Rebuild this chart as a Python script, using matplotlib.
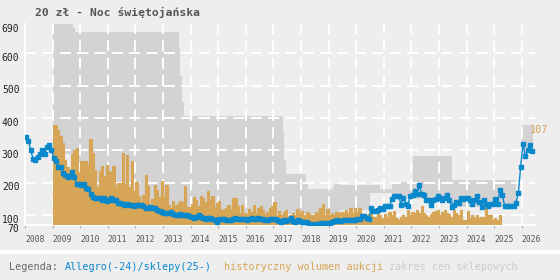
import matplotlib
matplotlib.use("Agg")
import matplotlib.pyplot as plt
from matplotlib.patches import Rectangle
from matplotlib.transforms import ScaledTranslation
import numpy as np

plt.rcParams['font.family'] = ['DejaVu Sans Mono']
plt.rcParams['lines.scale_dashes'] = False

title = "20 zł - Noc świętojańska"

# Allegro (-2024) / shop (2025-) price, monthly from Jan 2008
price_start = 2008
allegro_prices = [
    341, 330, 300, 275, 270, 279, 288, 300, 288, 310, 318, 302,  # 2008
    276, 268, 250, 250, 230, 224, 218, 222, 233, 217, 196, 196,  # 2009
    193, 196, 184, 180, 167, 157, 153, 153, 154, 146, 154, 143,  # 2010
    146, 154, 148, 148, 139, 139, 136, 133, 136, 131, 131, 129,  # 2011
    131, 133, 133, 129, 121, 121, 126, 123, 121, 115, 112, 110,  # 2012
    107, 107, 108, 110, 104, 100, 102, 105, 102, 100, 100, 97,   # 2013
    95, 93, 96, 100, 94, 92, 90, 91, 93, 88, 85, 80,             # 2014
    90, 88, 88, 85, 85, 86, 88, 92, 90, 88, 88, 90,              # 2015
    85, 88, 92, 90, 90, 93, 90, 88, 85, 86, 88, 90,              # 2016
    87, 85, 81, 79, 85, 81, 85, 93, 82, 79, 85, 81,              # 2017
    79, 79, 78, 74, 74, 71, 74, 74, 75, 77, 74, 76,              # 2018
    77, 79, 81, 85, 83, 81, 84, 85, 85, 85, 85, 85,              # 2019
    88, 90, 98, 98, 92, 90, 121, 113, 113, 115, 123, 118,        # 2020
    129, 129, 129, 149, 159, 159, 159, 133, 152, 136, 130, 160,  # 2021
    164, 175, 167, 192, 165, 162, 146, 148, 133, 146, 150, 160,  # 2022
    153, 148, 152, 163, 146, 126, 133, 141, 139, 152, 150, 152,  # 2023
    152, 146, 136, 146, 160, 141, 126, 146, 136, 128, 136, 136,  # 2024
    149, 136, 177, 164, 130, 130, 130, 130, 130, 139, 170, 249,  # 2025
    321, 282, 300, 316, 298,                                     # 2026
]

# historical auction volume, monthly from Jan 2009
volume_start = 2009
auction_volume = [
    107, 107, 102, 95, 88, 70, 62, 58, 76, 80, 82, 57,   # 2009
    69, 69, 69, 64, 92, 77, 59, 41, 58, 63, 52, 64,      # 2010
    58, 57, 63, 41, 45, 45, 77, 44, 75, 41, 69, 36,      # 2011
    46, 31, 25, 32, 53, 42, 20, 28, 43, 37, 30, 47,      # 2012
    30, 43, 21, 18, 26, 21, 22, 26, 25, 42, 19, 19,      # 2013
    23, 30, 27, 20, 31, 29, 25, 36, 27, 31, 19, 24,      # 2014
    26, 16, 17, 18, 21, 16, 29, 29, 20, 13, 21, 13,      # 2015
    12, 17, 14, 21, 13, 18, 20, 16, 11, 14, 18, 20,      # 2016
    25, 11, 15, 11, 14, 16, 9, 11, 13, 11, 17, 13,       # 2017
    15, 11, 14, 13, 11, 11, 14, 13, 18, 23, 11, 17,      # 2018
    11, 13, 11, 14, 12, 14, 14, 16, 13, 18, 13, 18,      # 2019
    14, 18, 9, 11, 11, 12, 16, 9, 9, 14, 11, 8,          # 2020
    12, 9, 14, 11, 15, 7, 5, 9, 11, 9, 16, 11,           # 2021
    14, 13, 16, 13, 20, 13, 11, 9, 12, 14, 15, 16,       # 2022
    11, 14, 16, 13, 12, 9, 16, 13, 11, 16, 5, 5,         # 2023
    15, 7, 11, 9, 11, 8, 9, 9, 19, 11, 11, 5,            # 2024
    8, 5, 11,                                            # 2025
]

# shop price range (step changes)
range_years = [2009.0, 2009.75, 2009.82, 2010.1, 2013.58, 2013.62, 2013.68, 2013.75,
               2017.34, 2017.38, 2017.45, 2018.18, 2018.24, 2019.15, 2019.2, 2019.41,
               2020.5, 2020.86, 2021.30, 2022.06, 2023.47, 2025.78, 2026.0, 2026.4]
range_high = [690, 678, 665, 665, 615, 530, 450, 405,
              357, 270, 227, 200, 180, 190, 195, 193,
              193, 180, 203, 282, 208, 150, 378, 378]
range_low = [290, 290, 235, 70, 70, 70, 70, 70,
             70, 70, 70, 70, 70, 70, 70, 115,
             168, 168, 160, 150, 126, 150, 300, 300]

year_ticks = list(range(2008, 2027))
price_ticks = [70, 100, 200, 300, 400, 500, 600, 690]

bg = '#eeeeee'
gray = '#d3d3d3'
orange = '#d6a555'
blue = '#0a88cc'

W, H = 560, 280
left, right, top, bottom = 25, 535, 24, 225

fig = plt.figure(figsize=(W / 100, H / 100), dpi=100, facecolor=bg)
rect = [left / W, 1 - bottom / H, (right - left) / W, (bottom - top) / H]

ax = fig.add_axes(rect)
ax.set_facecolor(bg)
ax.fill_between(range_years, range_low, range_high, step='post', color=gray, lw=0, zorder=1)
for v in price_ticks[1:-1]:
    ax.axhline(v, color='white', lw=1.4, linestyle=(0, (8, 4.5)), zorder=2)
for yr in year_ticks[1:]:
    ax.axvline(yr, color='white', lw=1.4, linestyle=(0, (8, 4.5)), zorder=2)

xmax = 2008 + (right - left) / 27.6
ax.set_xlim(2008, xmax)
ax.set_ylim(70, 690)
ax.set_yticks(price_ticks)
ax.set_xticks(year_ticks)
ax.set_xticklabels([str(y) for y in year_ticks], ha='left')
ax.tick_params(axis='x', length=2.5, color='#aaaaaa', pad=5, labelsize=5.8, labelcolor='#555555')
ax.tick_params(axis='y', length=0, pad=4, labelsize=7, labelcolor='#222222')
for lab in ax.get_yticklabels():
    lab.set_transform(lab.get_transform() + ScaledTranslation(0, -0.035, fig.dpi_scale_trans))
for s in ['top', 'right']:
    ax.spines[s].set_visible(False)
for s in ['left', 'bottom']:
    ax.spines[s].set_color('white')
    ax.spines[s].set_linewidth(1.5)

# volume bars
ax_vol = ax.twinx()
ax_vol.set_zorder(ax.get_zorder() + 1)
vol_t = volume_start + np.arange(len(auction_volume)) / 12
ax_vol.bar(vol_t, auction_volume, width=1 / 12, align='edge', color=orange,
           edgecolor=orange, linewidth=0.8, zorder=3)
vmax = max(auction_volume)
ax_vol.set_ylim(0, vmax * (bottom - top) / 100)
ax_vol.text(2026.3, vmax, str(vmax), color=orange, fontsize=7.3, va='top', ha='left')
ax_vol.axis('off')

# price line
ax_line = ax_vol.twinx()
ax_line.set_zorder(ax.get_zorder() + 2)
price_t = price_start + (np.arange(len(allegro_prices)) + 0.5) / 12
ax_line.plot(price_t, allegro_prices, color=blue, lw=1.0, marker='s', ms=2.4,
             mec=blue, mfc=blue, zorder=4)
ax_line.set_ylim(70, 690)
ax_line.axis('off')
ax_line.set_xlim(2008, xmax)

fig.text(35 / W, 1 - 12.5 / H, title, fontsize=8.2, weight='bold', color='#555555', va='center')

fig.add_artist(Rectangle((0, 1 - 253.5 / H), 1, 4 / H, transform=fig.transFigure,
                         color='white', lw=0))

ly = 1 - 267.5 / H
fig.text(9 / W, ly, "Legenda:", fontsize=7.3, color='#666666', va='center')
fig.text(65 / W, ly, "Allegro(-24)/sklepy(25-)", fontsize=7.3, color=blue, va='center')
fig.text(224 / W, ly, "historyczny wolumen aukcji", fontsize=7.3, color=orange, va='center')
fig.text(389 / W, ly, "zakres cen sklepowych", fontsize=7.3, color='#cccccc', va='center')

plt.savefig('out.png', dpi=100, facecolor=bg)
